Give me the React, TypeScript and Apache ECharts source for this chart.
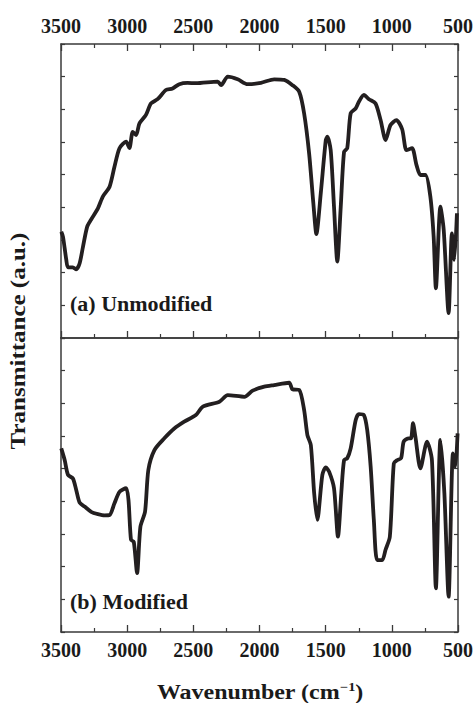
import React, { useEffect, useRef } from "react";
import * as echarts from "echarts";

// Wavenumber ticks (cm^-1)
const xTicks = [3500, 3000, 2500, 2000, 1500, 1000, 500];

// (a) Unmodified
const wavenumberA = [
  3498, 3485, 3460, 3447, 3410, 3385, 3359, 3334, 3302, 3272, 3221, 3184, 3133, 3096, 3058, 3008,
  2983, 2958, 2933, 2907, 2858, 2820, 2770, 2707, 2657, 2606, 2544, 2481, 2316, 2290, 2240, 2165,
  2090, 1989, 1889, 1813, 1751, 1700, 1663, 1625, 1593, 1570, 1537, 1499, 1487, 1462, 1437, 1412,
  1386, 1361, 1337, 1311, 1273, 1249, 1211, 1173, 1123, 1085, 1047, 1010, 965, 922, 889, 847,
  814, 784, 746, 709, 684, 667, 633, 608, 571, 546, 528, 508,
];
const transmittanceA = [
  3.25, 3.1, 2.39, 2.16, 2.16, 2.1, 2.29, 2.79, 3.41, 3.63, 3.97, 4.33, 4.63, 5.24, 5.81, 6.01,
  5.81, 6.31, 6.21, 6.57, 6.83, 7.18, 7.31, 7.59, 7.64, 7.77, 7.81, 7.8, 7.85, 7.74, 8.0, 7.92,
  7.77, 7.81, 7.92, 7.9, 7.74, 7.54, 6.88, 5.65, 4.12, 3.18, 4.43, 6.06, 6.16, 5.75, 4.02, 2.34,
  4.02, 5.7, 5.81, 6.88, 7.03, 7.23, 7.44, 7.31, 7.18, 6.67, 6.06, 6.52, 6.67, 6.39, 5.75, 5.81,
  5.3, 4.99, 4.99, 4.33, 3.1, 1.52, 4.02, 3.31, 0.76, 3.2, 2.39, 3.82,
];

// (b) Modified
const wavenumberB = [
  3498, 3472, 3447, 3410, 3385, 3359, 3322, 3272, 3221, 3171, 3133, 3096, 3058, 3008, 2990, 2971,
  2950, 2925, 2900, 2865, 2840, 2794, 2719, 2644, 2569, 2481, 2428, 2303, 2240, 2114, 2052, 1964,
  1889, 1776, 1751, 1700, 1663, 1638, 1612, 1587, 1563, 1525, 1499, 1474, 1437, 1407, 1382, 1361,
  1337, 1311, 1273, 1249, 1211, 1186, 1160, 1136, 1111, 1073, 1048, 1015, 985, 960, 930, 910,
  872, 855, 840, 822, 784, 734, 697, 667, 633, 603, 571, 538, 520, 503,
];
const transmittanceB = [
  5.62, 5.26, 4.81, 4.7, 4.35, 3.96, 3.84, 3.68, 3.61, 3.57, 3.58, 3.94, 4.29, 4.4, 4.04, 2.82,
  2.76, 1.8, 3.22, 3.68, 4.96, 5.57, 5.93, 6.23, 6.44, 6.64, 6.9, 7.05, 7.25, 7.2, 7.39, 7.51,
  7.56, 7.63, 7.43, 7.41, 6.8, 6.03, 5.72, 4.25, 3.43, 4.81, 5.04, 4.91, 4.4, 2.92, 4.25, 5.26,
  5.32, 5.62, 6.49, 6.67, 6.64, 6.18, 5.06, 3.43, 2.2, 2.2, 2.51, 2.92, 5.16, 5.26, 5.32, 5.83,
  5.93, 5.93, 6.39, 5.98, 5.01, 5.83, 5.26, 1.34, 5.88, 4.25, 1.08, 5.47, 5.06, 6.08,
];

const panelLabels = ["(a) Unmodified", "(b) Modified"];

export default function App() {
  const ref = useRef<HTMLDivElement>(null);
  useEffect(() => {
    document.body.style.margin = "0";
    if (!ref.current) return;
    const chart = echarts.init(ref.current, null, { renderer: "svg" });
    const font = "'Liberation Serif', 'Times New Roman', serif";
    const axisColor = "#3a3a3a";
    const lineColor = "#231f20";
    const textColor = "#1a1a1a";
    const xMin = xTicks[xTicks.length - 1];
    const xMax = xTicks[0];
    const xBase = (gridIndex: number, position: string, labels: boolean, ticks: boolean) => ({
      type: "value",
      gridIndex,
      position,
      inverse: true,
      min: xMin,
      max: xMax,
      interval: 500,
      axisLine: { show: true, onZero: false, lineStyle: { color: axisColor, width: 1.5 } },
      axisTick: { show: ticks, inside: true, length: 7, lineStyle: { color: axisColor, width: 1.3 } },
      minorTick: { show: ticks, splitNumber: 2, length: 4, lineStyle: { color: axisColor, width: 1.2 } },
      axisLabel: {
        show: labels,
        margin: 8,
        color: textColor,
        fontFamily: font,
        fontWeight: "bold",
        fontSize: 20,
        formatter: (v: number) => String(v),
      },
      splitLine: { show: false },
    });
    const yBase = (gridIndex: number, position: string) => ({
      type: "value",
      gridIndex,
      position,
      min: 0,
      max: 9,
      interval: 1,
      axisLine: { show: true, onZero: false, lineStyle: { color: axisColor, width: 1.5 } },
      axisTick: { show: true, inside: true, length: 4, lineStyle: { color: axisColor, width: 1.2 } },
      axisLabel: { show: false },
      splitLine: { show: false },
    });
    const toPairs = (xs: number[], ys: number[]) => xs.map((x, i) => [x, ys[i]]);
    chart.setOption({
      animation: false,
      backgroundColor: "#ffffff",
      grid: [
        { left: 61, top: 44, width: 398, height: 294 },
        { left: 61, top: 338, width: 398, height: 294 },
      ],
      xAxis: [
        xBase(0, "top", true, true),
        xBase(0, "bottom", false, true),
        xBase(1, "bottom", true, true),
        xBase(1, "top", false, false),
      ],
      yAxis: [yBase(0, "left"), yBase(0, "right"), yBase(1, "left"), yBase(1, "right")],
      series: [
        {
          type: "line",
          xAxisIndex: 0,
          yAxisIndex: 0,
          data: toPairs(wavenumberA, transmittanceA),
          showSymbol: false,
          smooth: 0.25,
          lineStyle: { color: lineColor, width: 3.8 },
        },
        {
          type: "line",
          xAxisIndex: 2,
          yAxisIndex: 2,
          data: toPairs(wavenumberB, transmittanceB),
          showSymbol: false,
          smooth: 0.25,
          lineStyle: { color: lineColor, width: 3.8 },
        },
      ],
      graphic: [
        {
          type: "text",
          x: 70,
          y: 304,
          scaleX: 1.1,
          style: {
            text: panelLabels[0],
            fontFamily: font,
            fontWeight: "bold",
            fontSize: 20,
            fill: textColor,
            align: "left",
            verticalAlign: "middle",
          },
        },
        {
          type: "text",
          x: 70,
          y: 602,
          scaleX: 1.1,
          style: {
            text: panelLabels[1],
            fontFamily: font,
            fontWeight: "bold",
            fontSize: 20,
            fill: textColor,
            align: "left",
            verticalAlign: "middle",
          },
        },
        {
          type: "text",
          x: 18,
          y: 341,
          rotation: Math.PI / 2,
          scaleX: 1.25,
          style: {
            text: "Transmittance (a.u.)",
            fontFamily: font,
            fontWeight: "bold",
            fontSize: 20,
            fill: textColor,
            align: "center",
            verticalAlign: "middle",
          },
        },
        {
          type: "text",
          x: 260,
          y: 692,
          scaleX: 1.2,
          style: {
            rich: {
              m: { fontFamily: font, fontWeight: "bold", fontSize: 20, fill: textColor },
              s: { fontFamily: font, fontWeight: "bold", fontSize: 12, fill: textColor, verticalAlign: "top", padding: [0, 0, 10, 0] },
            },
            text: "{m|Wavenumber (cm}{s|−1}{m|)}",
            align: "center",
            verticalAlign: "middle",
          },
        },
      ],
    });
    return () => chart.dispose();
  }, []);
  return <div ref={ref} style={{ width: 476, height: 703 }} />;
}
